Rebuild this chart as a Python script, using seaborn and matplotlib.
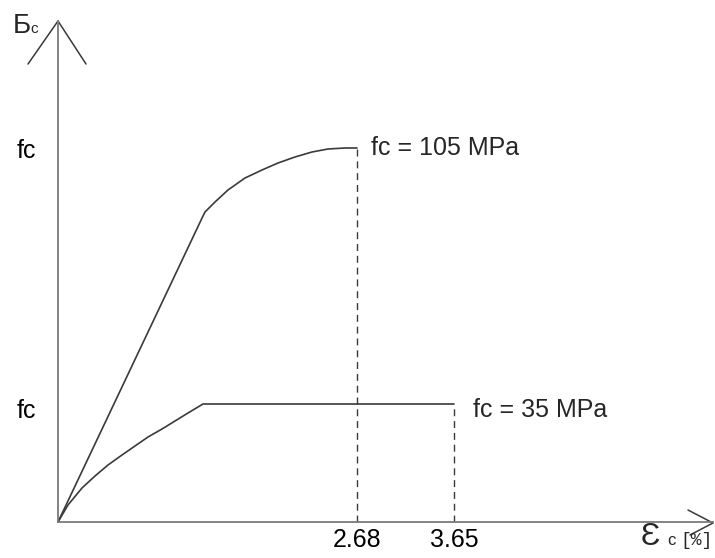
import numpy as np
import pandas as pd
import matplotlib
matplotlib.use('Agg')
import matplotlib.pyplot as plt
import seaborn as sns

# Dados do diagrama (unidades esquemáticas do desenho)
eps_105 = [0, 145, 147, 157, 170, 187, 204, 220, 237, 254, 270, 287, 299]
sig_105 = [0, 306, 310, 320, 332, 344, 352, 359, 365, 370, 373, 374, 374]

eps_35 = [0, 10, 24, 37, 50, 64, 77, 90, 104, 117, 130, 145, 396]
sig_35 = [0, 17, 34, 46, 57, 67, 76, 85, 93, 101, 109, 118, 118]

strain_ticks = [299, 396]
strain_labels = ['2.68', '3.65']
stress_ticks = [114, 374]
stress_labels = ['fc', 'fc']
curve_labels = ['fc = 105 MPa', 'fc = 35 MPa']

sns.set_style('white')
plt.rcParams['font.family'] = ['Liberation Sans', 'DejaVu Sans']

fig = plt.figure(figsize=(7.15, 5.58), dpi=100)
ax = fig.add_axes([0, 0, 1, 1])
ax.set_xlim(-58, 657)
ax.set_ylim(-36, 522)

line_color = '#3a3a3a'
axis_color = '#7a7a7a'

# Curvas
df105 = pd.DataFrame({'eps': eps_105, 'sig': sig_105})
df35 = pd.DataFrame({'eps': eps_35, 'sig': sig_35})
sns.lineplot(data=df105, x='eps', y='sig', sort=False, estimator=None, color=line_color, lw=1.2, ax=ax)
sns.lineplot(data=df35, x='eps', y='sig', sort=False, estimator=None, color=line_color, lw=1.2, ax=ax)

# Linhas tracejadas até o eixo
ax.vlines(eps_105[-1], 0, sig_105[-1], colors=line_color, linestyles=(0, (5, 3.5)), lw=1.0)
ax.vlines(eps_35[-1], 0, sig_35[-1], colors=line_color, linestyles=(0, (5, 3.5)), lw=1.0)

# Eixos com setas
ax.spines['top'].set_visible(False)
ax.spines['right'].set_visible(False)
ax.spines['left'].set_position(('data', 0))
ax.spines['bottom'].set_position(('data', 0))
ax.spines['left'].set_bounds(0, 501)
ax.spines['bottom'].set_bounds(0, 655)
for s in ['left', 'bottom']:
    ax.spines[s].set_color(axis_color)
    ax.spines[s].set_linewidth(1.3)
ax.plot([-30, 0, 28], [458, 501, 458], color=line_color, lw=1.1, clip_on=False)
ax.plot([630, 655, 632], [12, -1, -13], color=line_color, lw=1.1, clip_on=False)

ax.set_xticks(strain_ticks)
ax.set_xticklabels(strain_labels)
ax.set_yticks(stress_ticks)
ax.set_yticklabels(stress_labels)
ax.tick_params(axis='x', length=0, pad=4, labelsize=18, colors='black')
ax.tick_params(axis='y', length=9, width=1.2, pad=7, labelsize=18, color=axis_color, labelcolor='black')
ax.set_xlabel('')
ax.set_ylabel('')

# Rótulos das curvas
ax.text(313, 374, curve_labels[0], fontsize=18, va='center', ha='left')
ax.text(415, 112, curve_labels[1], fontsize=18, va='center', ha='left')

# Rótulos dos eixos
ax.text(-45, 489, 'Б', fontsize=20, va='baseline', ha='left')
ax.text(-28, 489, 'c', fontsize=11, va='baseline', ha='left')
ax.text(583, -23, 'Ɛ', fontsize=23, va='baseline', ha='left')
ax.text(609, -23, 'c', fontsize=12, va='baseline', ha='left')
ax.text(622, -23, '[%]', fontsize=13, va='baseline', ha='left', family=['Liberation Mono', 'DejaVu Sans Mono'])

plt.savefig('out.png', dpi=100)
